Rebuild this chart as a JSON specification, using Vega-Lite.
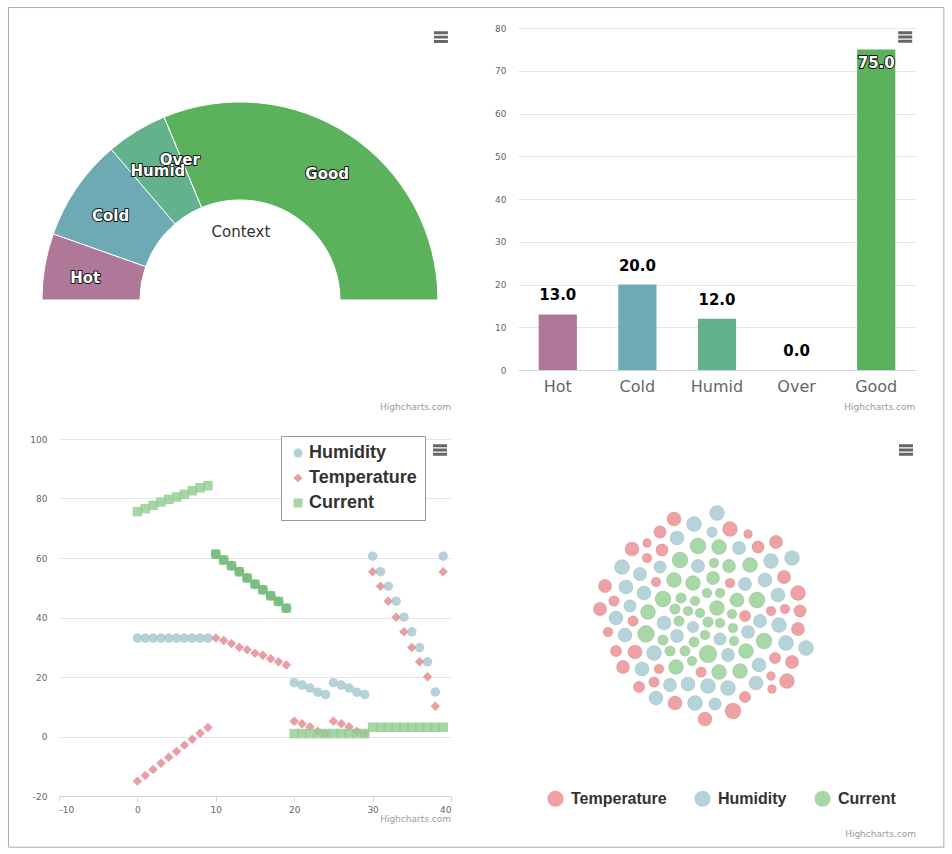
{
  "$schema": "https://vega.github.io/schema/vega-lite/v6.json",
  "padding": {"left": 7, "top": 7, "right": 0, "bottom": 0},
  "background": "white",
  "columns": 2,
  "spacing": {"row": 69, "column": 67},
  "bounds": "flush",
  "align": "each",
  "config": {
    "view": {"stroke": null},
    "font": "DejaVu Sans",
    "locale": {"number": {"decimal": ".", "thousands": ",", "grouping": [3], "currency": ["$", ""], "minus": "-"}}
  },
  "resolve": {
    "scale": {"color": "independent", "shape": "independent", "size": "independent", "x": "independent", "y": "independent", "theta": "independent"},
    "legend": {"color": "independent", "shape": "independent", "size": "independent"}
  },
  "datasets": {
    "cats": [
      {"cat": "Hot", "value": 13},
      {"cat": "Cold", "value": 20},
      {"cat": "Humid", "value": 12},
      {"cat": "Over", "value": 0},
      {"cat": "Good", "value": 75}
    ],
    "pts": [
      {"series": "Humidity", "x": 0, "value": 33.1}, {"series": "Humidity", "x": 1, "value": 33.1}, {"series": "Humidity", "x": 2, "value": 33.1}, {"series": "Humidity", "x": 3, "value": 33.1}, {"series": "Humidity", "x": 4, "value": 33.1},
      {"series": "Humidity", "x": 5, "value": 33.1}, {"series": "Humidity", "x": 6, "value": 33.1}, {"series": "Humidity", "x": 7, "value": 33.1}, {"series": "Humidity", "x": 8, "value": 33.1}, {"series": "Humidity", "x": 9, "value": 33.1},
      {"series": "Humidity", "x": 20, "value": 18.1}, {"series": "Humidity", "x": 21, "value": 17.3}, {"series": "Humidity", "x": 22, "value": 16.3}, {"series": "Humidity", "x": 23, "value": 14.9}, {"series": "Humidity", "x": 24, "value": 14.1},
      {"series": "Humidity", "x": 25, "value": 18.1}, {"series": "Humidity", "x": 26, "value": 17.3}, {"series": "Humidity", "x": 27, "value": 16.3}, {"series": "Humidity", "x": 28, "value": 14.9}, {"series": "Humidity", "x": 29, "value": 14.1},
      {"series": "Humidity", "x": 30, "value": 60.6}, {"series": "Humidity", "x": 31, "value": 55.4}, {"series": "Humidity", "x": 32, "value": 50.5}, {"series": "Humidity", "x": 33, "value": 45.5}, {"series": "Humidity", "x": 34, "value": 40.1},
      {"series": "Humidity", "x": 35, "value": 35.2}, {"series": "Humidity", "x": 36, "value": 29.9}, {"series": "Humidity", "x": 37, "value": 25.1}, {"series": "Humidity", "x": 38, "value": 15.0}, {"series": "Humidity", "x": 39, "value": 60.6},
      {"series": "Temperature", "x": 0, "value": -15}, {"series": "Temperature", "x": 1, "value": -13.1}, {"series": "Temperature", "x": 2, "value": -11.1}, {"series": "Temperature", "x": 3, "value": -9}, {"series": "Temperature", "x": 4, "value": -7},
      {"series": "Temperature", "x": 5, "value": -5}, {"series": "Temperature", "x": 6, "value": -2.9}, {"series": "Temperature", "x": 7, "value": -0.9}, {"series": "Temperature", "x": 8, "value": 1.1}, {"series": "Temperature", "x": 9, "value": 3},
      {"series": "Temperature", "x": 10, "value": 33.1}, {"series": "Temperature", "x": 11, "value": 32.3}, {"series": "Temperature", "x": 12, "value": 31.3}, {"series": "Temperature", "x": 13, "value": 30}, {"series": "Temperature", "x": 14, "value": 29.2},
      {"series": "Temperature", "x": 15, "value": 28}, {"series": "Temperature", "x": 16, "value": 27.3}, {"series": "Temperature", "x": 17, "value": 26.1}, {"series": "Temperature", "x": 18, "value": 25.1}, {"series": "Temperature", "x": 19, "value": 24},
      {"series": "Temperature", "x": 20, "value": 5.1}, {"series": "Temperature", "x": 21, "value": 4.3}, {"series": "Temperature", "x": 22, "value": 3.3}, {"series": "Temperature", "x": 23, "value": 1.8}, {"series": "Temperature", "x": 24, "value": 1.1},
      {"series": "Temperature", "x": 25, "value": 5.1}, {"series": "Temperature", "x": 26, "value": 4.3}, {"series": "Temperature", "x": 27, "value": 3.3}, {"series": "Temperature", "x": 28, "value": 1.8}, {"series": "Temperature", "x": 29, "value": 1.1},
      {"series": "Temperature", "x": 30, "value": 55.4}, {"series": "Temperature", "x": 31, "value": 50.5}, {"series": "Temperature", "x": 32, "value": 45.5}, {"series": "Temperature", "x": 33, "value": 40.1}, {"series": "Temperature", "x": 34, "value": 35.2},
      {"series": "Temperature", "x": 35, "value": 29.9}, {"series": "Temperature", "x": 36, "value": 25.1}, {"series": "Temperature", "x": 37, "value": 20.1}, {"series": "Temperature", "x": 38, "value": 10.2}, {"series": "Temperature", "x": 39, "value": 55.4},
      {"series": "Current", "x": 0, "value": 75.6}, {"series": "Current", "x": 1, "value": 76.6}, {"series": "Current", "x": 2, "value": 77.7}, {"series": "Current", "x": 3, "value": 78.8}, {"series": "Current", "x": 4, "value": 79.7},
      {"series": "Current", "x": 5, "value": 80.5}, {"series": "Current", "x": 6, "value": 81.4}, {"series": "Current", "x": 7, "value": 82.6}, {"series": "Current", "x": 8, "value": 83.6}, {"series": "Current", "x": 9, "value": 84.3},
      {"series": "Current", "x": 10, "value": 61.3}, {"series": "Current", "x": 11, "value": 59.3}, {"series": "Current", "x": 12, "value": 57.4}, {"series": "Current", "x": 13, "value": 55.4}, {"series": "Current", "x": 14, "value": 53.3},
      {"series": "Current", "x": 15, "value": 51.2}, {"series": "Current", "x": 16, "value": 49.3}, {"series": "Current", "x": 17, "value": 47.3}, {"series": "Current", "x": 18, "value": 45.4}, {"series": "Current", "x": 19, "value": 43.1},
      {"series": "Current", "x": 20, "value": 1.0}, {"series": "Current", "x": 21, "value": 1.0}, {"series": "Current", "x": 22, "value": 1.0}, {"series": "Current", "x": 23, "value": 1.0}, {"series": "Current", "x": 24, "value": 1.0},
      {"series": "Current", "x": 25, "value": 1.0}, {"series": "Current", "x": 26, "value": 1.0}, {"series": "Current", "x": 27, "value": 1.0}, {"series": "Current", "x": 28, "value": 1.0}, {"series": "Current", "x": 29, "value": 1.0},
      {"series": "Current", "x": 30, "value": 3.1}, {"series": "Current", "x": 31, "value": 3.1}, {"series": "Current", "x": 32, "value": 3.1}, {"series": "Current", "x": 33, "value": 3.1}, {"series": "Current", "x": 34, "value": 3.1},
      {"series": "Current", "x": 35, "value": 3.1}, {"series": "Current", "x": 36, "value": 3.1}, {"series": "Current", "x": 37, "value": 3.1}, {"series": "Current", "x": 38, "value": 3.1}, {"series": "Current", "x": 39, "value": 3.1}
    ],
    "bubbles": [
      {"series": "Humidity", "x": 11, "y": 102, "value": 17}, {"series": "Temperature", "x": -32, "y": 96, "value": 16}, {"series": "Humidity", "x": -12, "y": 91, "value": 17},
      {"series": "Temperature", "x": 24, "y": 86, "value": 17}, {"series": "Humidity", "x": 6, "y": 83, "value": 12}, {"series": "Temperature", "x": -46, "y": 83, "value": 14},
      {"series": "Temperature", "x": 42, "y": 81, "value": 10}, {"series": "Humidity", "x": -29, "y": 77, "value": 16}, {"series": "Current", "x": -8, "y": 69, "value": 18},
      {"series": "Current", "x": 13, "y": 68, "value": 17}, {"series": "Humidity", "x": 33, "y": 67, "value": 15}, {"series": "Temperature", "x": 52, "y": 68, "value": 14},
      {"series": "Temperature", "x": 70, "y": 73, "value": 15}, {"series": "Temperature", "x": -74, "y": 66, "value": 16}, {"series": "Temperature", "x": -59, "y": 72, "value": 10},
      {"series": "Temperature", "x": -44, "y": 65, "value": 14}, {"series": "Temperature", "x": -59, "y": 57, "value": 11}, {"series": "Humidity", "x": 86, "y": 57, "value": 17},
      {"series": "Humidity", "x": 65, "y": 54, "value": 17}, {"series": "Humidity", "x": -84, "y": 48, "value": 17}, {"series": "Current", "x": -26, "y": 55, "value": 18},
      {"series": "Humidity", "x": -8, "y": 49, "value": 15}, {"series": "Current", "x": 8, "y": 52, "value": 11}, {"series": "Current", "x": 23, "y": 49, "value": 15},
      {"series": "Current", "x": 44, "y": 50, "value": 17}, {"series": "Humidity", "x": -46, "y": 48, "value": 14}, {"series": "Humidity", "x": -66, "y": 41, "value": 15},
      {"series": "Temperature", "x": 78, "y": 38, "value": 15}, {"series": "Humidity", "x": 59, "y": 35, "value": 16}, {"series": "Current", "x": -32, "y": 35, "value": 17},
      {"series": "Current", "x": -13, "y": 32, "value": 17}, {"series": "Current", "x": 7, "y": 37, "value": 15}, {"series": "Temperature", "x": 24, "y": 32, "value": 11},
      {"series": "Humidity", "x": 39, "y": 31, "value": 15}, {"series": "Temperature", "x": -50, "y": 33, "value": 11}, {"series": "Temperature", "x": -101, "y": 29, "value": 15},
      {"series": "Humidity", "x": -80, "y": 28, "value": 16}, {"series": "Humidity", "x": -62, "y": 22, "value": 16}, {"series": "Current", "x": 1, "y": 22, "value": 11},
      {"series": "Current", "x": 14, "y": 22, "value": 11}, {"series": "Current", "x": -43, "y": 16, "value": 18}, {"series": "Current", "x": -25, "y": 17, "value": 12},
      {"series": "Current", "x": -11, "y": 14, "value": 11}, {"series": "Current", "x": 31, "y": 15, "value": 16}, {"series": "Current", "x": 51, "y": 15, "value": 18},
      {"series": "Humidity", "x": 72, "y": 20, "value": 16}, {"series": "Temperature", "x": 92, "y": 22, "value": 17}, {"series": "Temperature", "x": -92, "y": 14, "value": 12},
      {"series": "Humidity", "x": -76, "y": 9, "value": 14}, {"series": "Temperature", "x": -106, "y": 6, "value": 15}, {"series": "Current", "x": -58, "y": 3, "value": 17},
      {"series": "Current", "x": -31, "y": 6, "value": 12}, {"series": "Current", "x": -18, "y": 4, "value": 11}, {"series": "Current", "x": -6, "y": 2, "value": 11},
      {"series": "Current", "x": 11, "y": 7, "value": 17}, {"series": "Current", "x": 26, "y": 1, "value": 11}, {"series": "Temperature", "x": 39, "y": -1, "value": 13},
      {"series": "Temperature", "x": 65, "y": 4, "value": 11}, {"series": "Temperature", "x": 79, "y": 6, "value": 11}, {"series": "Temperature", "x": 94, "y": 4, "value": 14},
      {"series": "Humidity", "x": -90, "y": -3, "value": 16}, {"series": "Temperature", "x": -73, "y": -6, "value": 12}, {"series": "Humidity", "x": -42, "y": -8, "value": 16},
      {"series": "Current", "x": -27, "y": -6, "value": 12}, {"series": "Current", "x": 2, "y": -7, "value": 12}, {"series": "Current", "x": 14, "y": -8, "value": 11},
      {"series": "Humidity", "x": 54, "y": -6, "value": 15}, {"series": "Humidity", "x": 73, "y": -10, "value": 17}, {"series": "Temperature", "x": 92, "y": -14, "value": 15},
      {"series": "Temperature", "x": -98, "y": -17, "value": 11}, {"series": "Humidity", "x": -81, "y": -20, "value": 16}, {"series": "Current", "x": -60, "y": -19, "value": 19},
      {"series": "Humidity", "x": -29, "y": -21, "value": 15}, {"series": "Humidity", "x": -13, "y": -12, "value": 13}, {"series": "Current", "x": -1, "y": -20, "value": 11},
      {"series": "Current", "x": 27, "y": -13, "value": 11}, {"series": "Humidity", "x": 42, "y": -17, "value": 15}, {"series": "Current", "x": -43, "y": -25, "value": 12},
      {"series": "Current", "x": -12, "y": -27, "value": 12}, {"series": "Humidity", "x": 14, "y": -24, "value": 14}, {"series": "Current", "x": 28, "y": -26, "value": 11},
      {"series": "Current", "x": 58, "y": -26, "value": 18}, {"series": "Humidity", "x": 80, "y": -28, "value": 17}, {"series": "Humidity", "x": 100, "y": -33, "value": 17},
      {"series": "Temperature", "x": -90, "y": -36, "value": 13}, {"series": "Temperature", "x": -71, "y": -37, "value": 16}, {"series": "Humidity", "x": -52, "y": -38, "value": 17},
      {"series": "Current", "x": -36, "y": -36, "value": 12}, {"series": "Current", "x": -21, "y": -36, "value": 12}, {"series": "Current", "x": 2, "y": -39, "value": 20},
      {"series": "Humidity", "x": 22, "y": -40, "value": 15}, {"series": "Current", "x": 40, "y": -36, "value": 17}, {"series": "Temperature", "x": 69, "y": -43, "value": 13},
      {"series": "Temperature", "x": 86, "y": -47, "value": 15}, {"series": "Temperature", "x": -83, "y": -52, "value": 15}, {"series": "Humidity", "x": -64, "y": -54, "value": 16},
      {"series": "Temperature", "x": -47, "y": -54, "value": 11}, {"series": "Current", "x": -30, "y": -52, "value": 17}, {"series": "Current", "x": -14, "y": -46, "value": 11},
      {"series": "Temperature", "x": -5, "y": -57, "value": 12}, {"series": "Current", "x": 13, "y": -57, "value": 17}, {"series": "Current", "x": 34, "y": -56, "value": 17},
      {"series": "Humidity", "x": 53, "y": -50, "value": 16}, {"series": "Temperature", "x": 65, "y": -61, "value": 10}, {"series": "Temperature", "x": 81, "y": -66, "value": 17},
      {"series": "Temperature", "x": 66, "y": -74, "value": 10}, {"series": "Temperature", "x": -67, "y": -72, "value": 13}, {"series": "Temperature", "x": -52, "y": -67, "value": 12},
      {"series": "Humidity", "x": -36, "y": -70, "value": 15}, {"series": "Humidity", "x": -18, "y": -69, "value": 16}, {"series": "Humidity", "x": 2, "y": -71, "value": 17},
      {"series": "Humidity", "x": 22, "y": -73, "value": 17}, {"series": "Humidity", "x": 50, "y": -68, "value": 16}, {"series": "Humidity", "x": -50, "y": -83, "value": 16},
      {"series": "Temperature", "x": -31, "y": -88, "value": 16}, {"series": "Humidity", "x": -11, "y": -88, "value": 17}, {"series": "Humidity", "x": 9, "y": -89, "value": 14},
      {"series": "Temperature", "x": 27, "y": -96, "value": 18}, {"series": "Temperature", "x": 39, "y": -82, "value": 13}, {"series": "Temperature", "x": -1, "y": -104, "value": 16}
    ]
  },
  "concat": [
    {
      "width": 392,
      "height": 342,
      "encoding": {
        "x": {"datum": 0, "type": "quantitative", "scale": {"domain": [-0.914, 1.066], "nice": false, "zero": false}, "axis": null},
        "y": {"datum": 0, "type": "quantitative", "scale": {"domain": [-0.354, 1.374], "nice": false, "zero": false}, "axis": null}
      },
      "layer": [
        {
          "data": {"values": [{}]},
          "mark": {"type": "rect", "fill": "transparent", "stroke": "#aaaaaa", "strokeWidth": 1},
          "encoding": {
            "x": {"datum": -1.1692, "type": "quantitative"},
            "x2": {"datum": 3.5556},
            "y": {"datum": 1.4773, "type": "quantitative"},
            "y2": {"datum": -2.7652}
          }
        },
        {
          "data": {"name": "cats"},
          "transform": [{"window": [{"op": "row_number", "as": "rank"}]}],
          "mark": {"type": "arc", "innerRadius": 100, "outerRadius": 198, "stroke": "#ffffff", "strokeWidth": 1},
          "encoding": {
            "theta": {"field": "value", "type": "quantitative", "stack": true, "scale": {"range": [-1.5707963, 1.5707963]}},
            "order": {"field": "rank", "type": "quantitative"},
            "color": {"field": "cat", "type": "nominal", "scale": {"domain": ["Hot", "Cold", "Humid", "Over", "Good"], "range": ["#b07898", "#6eaab4", "#64b28c", "#8bbc8b", "#5cb25c"]}, "legend": null}
          }
        },
        {
          "data": {"name": "cats"},
          "transform": [{"window": [{"op": "row_number", "as": "rank"}]}],
          "mark": {"type": "text", "radius": 157, "dy": 5, "fontSize": 15, "fontWeight": "bold", "fill": "#111111", "stroke": "#111111", "strokeWidth": 2, "strokeJoin": "round"},
          "encoding": {
            "theta": {"field": "value", "type": "quantitative", "stack": true},
            "order": {"field": "rank", "type": "quantitative"},
            "detail": {"field": "cat", "type": "nominal"},
            "text": {"field": "cat", "type": "nominal"}
          }
        },
        {
          "data": {"name": "cats"},
          "transform": [{"window": [{"op": "row_number", "as": "rank"}]}],
          "mark": {"type": "text", "radius": 157, "dy": 5, "fontSize": 15, "fontWeight": "bold", "fill": "#ffffff"},
          "encoding": {
            "theta": {"field": "value", "type": "quantitative", "stack": true},
            "order": {"field": "rank", "type": "quantitative"},
            "detail": {"field": "cat", "type": "nominal"},
            "text": {"field": "cat", "type": "nominal"}
          }
        },
        {
          "data": {"values": [{}]},
          "mark": {"type": "text", "fontSize": 15, "fill": "#333333", "baseline": "middle"},
          "encoding": {
            "x": {"datum": 0.005, "type": "quantitative"},
            "y": {"datum": 0.343, "type": "quantitative"},
            "text": {"value": "Context"}
          }
        },
        {
          "data": {"values": [{}]},
          "mark": {"type": "point", "shape": "M-1,-0.83H1V-0.4H-1Z M-1,-0.21H1V0.21H-1Z M-1,0.4H1V0.83H-1Z", "size": 196, "filled": true, "fill": "#666666", "opacity": 1},
          "encoding": {
            "x": {"datum": 1.015, "type": "quantitative"},
            "y": {"datum": 1.328, "type": "quantitative"}
          }
        },
        {
          "data": {"values": [{}]},
          "mark": {"type": "text", "fontSize": 9, "fill": "#999999", "align": "right", "baseline": "middle"},
          "encoding": {
            "x": {"datum": 1.0657, "type": "quantitative"},
            "y": {"datum": -0.543, "type": "quantitative"},
            "text": {"value": "Highcharts.com"}
          }
        }
      ]
    },
    {
      "width": 398,
      "height": 342,
      "layer": [
        {
          "data": {"name": "cats"},
          "mark": {"type": "bar", "width": {"band": 0.48}},
          "encoding": {
            "x": {"field": "cat", "type": "nominal", "scale": {"domain": ["Hot", "Cold", "Humid", "Over", "Good"], "paddingInner": 0, "paddingOuter": 0},
              "axis": {"title": null, "labelAngle": 0, "labelFontSize": 16, "labelColor": "#666666", "labelPadding": 8, "ticks": false, "domainColor": "#ccd6eb"}},
            "y": {"field": "value", "type": "quantitative", "scale": {"domain": [0, 80], "nice": false},
              "axis": {"title": null, "values": [0, 10, 20, 30, 40, 50, 60, 70, 80], "grid": true, "gridColor": "#e6e6e6", "domain": false, "ticks": false, "labelFontSize": 9, "labelColor": "#666666", "labelPadding": 12}},
            "color": {"field": "cat", "type": "nominal", "scale": {"domain": ["Hot", "Cold", "Humid", "Over", "Good"], "range": ["#b07898", "#6eaab4", "#64b28c", "#8bbc8b", "#5cb25c"]}, "legend": null}
          }
        },
        {
          "data": {"name": "cats"},
          "transform": [{"filter": "datum.value < 70"}],
          "mark": {"type": "text", "dy": -19, "fontSize": 15, "fontWeight": "bold", "fill": "#ffffff", "stroke": "#ffffff", "strokeWidth": 3, "strokeJoin": "round"},
          "encoding": {
            "x": {"field": "cat", "type": "nominal", "axis": {"title": null, "labelAngle": 0, "labelFontSize": 16, "labelColor": "#666666", "labelPadding": 8, "ticks": false, "domainColor": "#ccd6eb"}},
            "y": {"field": "value", "type": "quantitative", "axis": {"title": null, "values": [0, 10, 20, 30, 40, 50, 60, 70, 80], "grid": true, "gridColor": "#e6e6e6", "domain": false, "ticks": false, "labelFontSize": 9, "labelColor": "#666666", "labelPadding": 12}},
            "text": {"field": "value", "type": "quantitative", "format": ".1f"}
          }
        },
        {
          "data": {"name": "cats"},
          "transform": [{"filter": "datum.value < 70"}],
          "mark": {"type": "text", "dy": -19, "fontSize": 15, "fontWeight": "bold", "fill": "#000000"},
          "encoding": {
            "x": {"field": "cat", "type": "nominal", "axis": {"title": null, "labelAngle": 0, "labelFontSize": 16, "labelColor": "#666666", "labelPadding": 8, "ticks": false, "domainColor": "#ccd6eb"}},
            "y": {"field": "value", "type": "quantitative", "axis": {"title": null, "values": [0, 10, 20, 30, 40, 50, 60, 70, 80], "grid": true, "gridColor": "#e6e6e6", "domain": false, "ticks": false, "labelFontSize": 9, "labelColor": "#666666", "labelPadding": 12}},
            "text": {"field": "value", "type": "quantitative", "format": ".1f"}
          }
        },
        {
          "data": {"name": "cats"},
          "transform": [{"filter": "datum.value >= 70"}],
          "mark": {"type": "text", "dy": 14, "fontSize": 15, "fontWeight": "bold", "fill": "#111111", "stroke": "#111111", "strokeWidth": 2, "strokeJoin": "round"},
          "encoding": {
            "x": {"field": "cat", "type": "nominal", "axis": {"title": null, "labelAngle": 0, "labelFontSize": 16, "labelColor": "#666666", "labelPadding": 8, "ticks": false, "domainColor": "#ccd6eb"}},
            "y": {"field": "value", "type": "quantitative", "axis": {"title": null, "values": [0, 10, 20, 30, 40, 50, 60, 70, 80], "grid": true, "gridColor": "#e6e6e6", "domain": false, "ticks": false, "labelFontSize": 9, "labelColor": "#666666", "labelPadding": 12}},
            "text": {"field": "value", "type": "quantitative", "format": ".1f"}
          }
        },
        {
          "data": {"name": "cats"},
          "transform": [{"filter": "datum.value >= 70"}],
          "mark": {"type": "text", "dy": 14, "fontSize": 15, "fontWeight": "bold", "fill": "#ffffff"},
          "encoding": {
            "x": {"field": "cat", "type": "nominal", "axis": {"title": null, "labelAngle": 0, "labelFontSize": 16, "labelColor": "#666666", "labelPadding": 8, "ticks": false, "domainColor": "#ccd6eb"}},
            "y": {"field": "value", "type": "quantitative", "axis": {"title": null, "values": [0, 10, 20, 30, 40, 50, 60, 70, 80], "grid": true, "gridColor": "#e6e6e6", "domain": false, "ticks": false, "labelFontSize": 9, "labelColor": "#666666", "labelPadding": 12}},
            "text": {"field": "value", "type": "quantitative", "format": ".1f"}
          }
        },
        {
          "data": {"values": [{}]},
          "mark": {"type": "point", "shape": "M-1,-0.83H1V-0.4H-1Z M-1,-0.21H1V0.21H-1Z M-1,0.4H1V0.83H-1Z", "size": 196, "filled": true, "fill": "#666666", "opacity": 1, "xOffset": 29},
          "encoding": {
            "x": {"datum": "Good", "type": "nominal", "axis": {"title": null, "labelAngle": 0, "labelFontSize": 16, "labelColor": "#666666", "labelPadding": 8, "ticks": false, "domainColor": "#ccd6eb"}},
            "y": {"datum": 77.9, "type": "quantitative", "axis": {"title": null, "values": [0, 10, 20, 30, 40, 50, 60, 70, 80], "grid": true, "gridColor": "#e6e6e6", "domain": false, "ticks": false, "labelFontSize": 9, "labelColor": "#666666", "labelPadding": 12}}
          }
        },
        {
          "data": {"values": [{}]},
          "mark": {"type": "text", "fontSize": 9, "fill": "#999999", "align": "right", "baseline": "middle", "dx": 39},
          "encoding": {
            "x": {"datum": "Good", "type": "nominal", "axis": {"title": null, "labelAngle": 0, "labelFontSize": 16, "labelColor": "#666666", "labelPadding": 8, "ticks": false, "domainColor": "#ccd6eb"}},
            "y": {"datum": -8.77, "type": "quantitative", "axis": {"title": null, "values": [0, 10, 20, 30, 40, 50, 60, 70, 80], "grid": true, "gridColor": "#e6e6e6", "domain": false, "ticks": false, "labelFontSize": 9, "labelColor": "#666666", "labelPadding": 12}},
            "text": {"value": "Highcharts.com"}
          }
        }
      ]
    },
    {
      "width": 392,
      "height": 357,
      "layer": [
        {
          "data": {"name": "pts"},
          "mark": {"type": "point", "filled": true, "opacity": 0.8, "size": 90},
          "encoding": {
            "x": {"field": "x", "type": "quantitative", "scale": {"domain": [-10, 40], "nice": false, "zero": false},
              "axis": {"title": null, "values": [-10, 0, 10, 20, 30, 40], "grid": false, "domainColor": "#ccd6eb", "tickColor": "#ccd6eb", "tickSize": 5, "labelFontSize": 9, "labelColor": "#666666", "labelPadding": 4}},
            "y": {"field": "value", "type": "quantitative", "scale": {"domain": [-20, 100], "nice": false, "zero": false},
              "axis": {"title": null, "values": [-20, 0, 20, 40, 60, 80, 100], "grid": true, "gridColor": "#e6e6e6", "domain": false, "ticks": false, "labelFontSize": 9, "labelColor": "#666666", "labelPadding": 12}},
            "color": {"field": "series", "type": "nominal", "scale": {"domain": ["Humidity", "Temperature", "Current"], "range": ["#a1c7ce", "#e2868b", "#90cc90"]},
              "legend": {"title": null, "orient": "none", "legendX": 222, "legendY": -3, "padding": 8, "strokeColor": "#999999", "fillColor": "#ffffff", "labelFontSize": 18, "labelFont": "Liberation Sans", "labelFontWeight": "bold", "labelColor": "#333333", "symbolSize": 80, "rowPadding": 7, "labelOffset": 2, "symbolOpacity": 0.8}},
            "shape": {"field": "series", "type": "nominal", "scale": {"domain": ["Humidity", "Temperature", "Current"], "range": ["circle", "diamond", "square"]},
              "legend": {"title": null, "orient": "none", "legendX": 222, "legendY": -3, "padding": 8, "strokeColor": "#999999", "fillColor": "#ffffff", "labelFontSize": 18, "labelFont": "Liberation Sans", "labelFontWeight": "bold", "labelColor": "#333333", "symbolSize": 80, "rowPadding": 7, "labelOffset": 2, "symbolOpacity": 0.8}}
          }
        },
        {
          "data": {"name": "pts"},
          "transform": [{"filter": "datum.series == 'Current' && datum.x >= 10 && datum.x <= 19"}],
          "mark": {"type": "point", "shape": "circle", "filled": true, "opacity": 0.6, "size": 100, "fill": "#5fae6a"},
          "encoding": {
            "x": {"field": "x", "type": "quantitative", "axis": {"title": null, "values": [-10, 0, 10, 20, 30, 40], "grid": false, "domainColor": "#ccd6eb", "tickColor": "#ccd6eb", "tickSize": 5, "labelFontSize": 9, "labelColor": "#666666", "labelPadding": 4}},
            "y": {"field": "value", "type": "quantitative", "axis": {"title": null, "values": [-20, 0, 20, 40, 60, 80, 100], "grid": true, "gridColor": "#e6e6e6", "domain": false, "ticks": false, "labelFontSize": 9, "labelColor": "#666666", "labelPadding": 12}}
          }
        },
        {
          "data": {"values": [{}]},
          "mark": {"type": "point", "shape": "M-1,-0.83H1V-0.4H-1Z M-1,-0.21H1V0.21H-1Z M-1,0.4H1V0.83H-1Z", "size": 196, "filled": true, "fill": "#666666", "opacity": 1},
          "encoding": {
            "x": {"datum": 38.6, "type": "quantitative", "axis": {"title": null, "values": [-10, 0, 10, 20, 30, 40], "grid": false, "domainColor": "#ccd6eb", "tickColor": "#ccd6eb", "tickSize": 5, "labelFontSize": 9, "labelColor": "#666666", "labelPadding": 4}},
            "y": {"datum": 96.3, "type": "quantitative", "axis": {"title": null, "values": [-20, 0, 20, 40, 60, 80, 100], "grid": true, "gridColor": "#e6e6e6", "domain": false, "ticks": false, "labelFontSize": 9, "labelColor": "#666666", "labelPadding": 12}}
          }
        },
        {
          "data": {"values": [{}]},
          "mark": {"type": "text", "fontSize": 9, "fill": "#999999", "align": "right", "baseline": "middle"},
          "encoding": {
            "x": {"datum": 40, "type": "quantitative", "axis": {"title": null, "values": [-10, 0, 10, 20, 30, 40], "grid": false, "domainColor": "#ccd6eb", "tickColor": "#ccd6eb", "tickSize": 5, "labelFontSize": 9, "labelColor": "#666666", "labelPadding": 4}},
            "y": {"datum": -27.7, "type": "quantitative", "axis": {"title": null, "values": [-20, 0, 20, 40, 60, 80, 100], "grid": true, "gridColor": "#e6e6e6", "domain": false, "ticks": false, "labelFontSize": 9, "labelColor": "#666666", "labelPadding": 12}},
            "text": {"value": "Highcharts.com"}
          }
        }
      ]
    },
    {
      "width": 398,
      "height": 357,
      "layer": [
        {
          "data": {"name": "bubbles"},
          "mark": {"type": "point", "shape": "circle", "filled": true, "opacity": 1, "stroke": "#000000", "strokeOpacity": 0.08, "strokeWidth": 1},
          "encoding": {
            "x": {"field": "x", "type": "quantitative", "scale": {"domain": [-188, 210], "nice": false, "zero": false}, "axis": null},
            "y": {"field": "y", "type": "quantitative", "scale": {"domain": [-181, 176], "nice": false, "zero": false}, "axis": null},
            "size": {"field": "value", "type": "quantitative", "scale": {"type": "pow", "exponent": 2, "domain": [0, 20], "range": [0, 314]}, "legend": null},
            "color": {"field": "series", "type": "nominal", "scale": {"domain": ["Temperature", "Humidity", "Current"], "range": ["#f0a1a3", "#b4d4da", "#a8d8a8"]},
              "legend": {"title": null, "orient": "none", "direction": "horizontal", "legendX": 29, "legendY": 351, "padding": 0, "labelFontSize": 16, "labelFont": "Liberation Sans", "labelFontWeight": "bold", "labelColor": "#333333", "symbolSize": 260, "symbolType": "circle", "labelOffset": 7, "columnPadding": 27, "symbolOpacity": 1, "symbolStrokeWidth": 0}}
          }
        },
        {
          "data": {"values": [{}]},
          "mark": {"type": "point", "shape": "M-1,-0.83H1V-0.4H-1Z M-1,-0.21H1V0.21H-1Z M-1,0.4H1V0.83H-1Z", "size": 196, "filled": true, "fill": "#666666", "opacity": 1},
          "encoding": {
            "x": {"datum": 200, "type": "quantitative", "axis": null},
            "y": {"datum": 165, "type": "quantitative", "axis": null}
          }
        },
        {
          "data": {"values": [{}]},
          "mark": {"type": "text", "fontSize": 9, "fill": "#999999", "align": "right", "baseline": "middle"},
          "encoding": {
            "x": {"datum": 210, "type": "quantitative", "axis": null},
            "y": {"datum": -219, "type": "quantitative", "axis": null},
            "text": {"value": "Highcharts.com"}
          }
        }
      ]
    }
  ]
}
